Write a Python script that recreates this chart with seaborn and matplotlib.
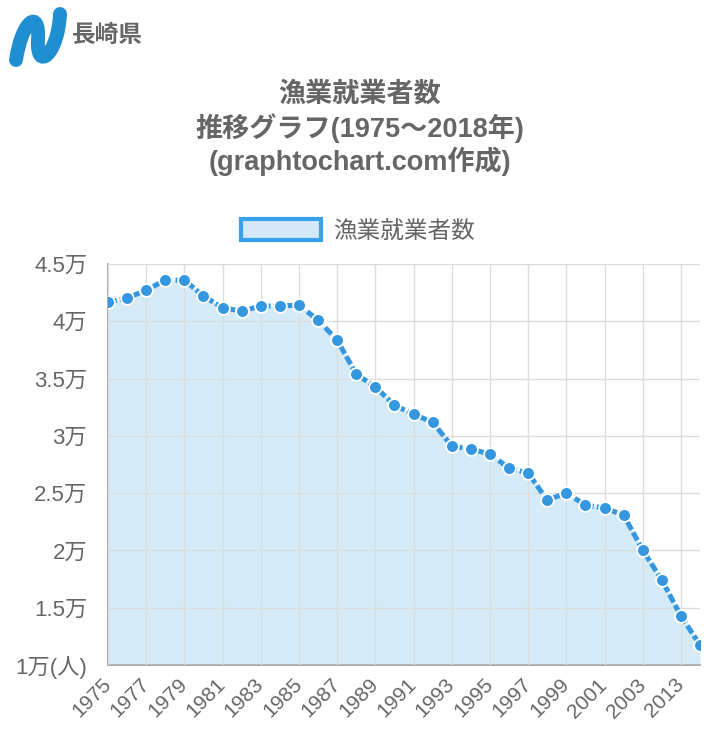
import matplotlib
matplotlib.use("Agg")
import matplotlib.pyplot as plt
import seaborn as sns
import pandas as pd
import numpy as np
from matplotlib.patches import Patch
from matplotlib.path import Path
from matplotlib.patches import PathPatch

years = [1975, 1976, 1977, 1978, 1979, 1980, 1981, 1982, 1983, 1984, 1985, 1986,
         1987, 1988, 1989, 1990, 1991, 1992, 1993, 1994, 1995, 1996, 1997, 1998,
         1999, 2000, 2001, 2002, 2003, 2008, 2013, 2018]
workers = [41680, 42020, 42720, 43590, 43590, 42200, 41180, 40890, 41330, 41330,
           41410, 40100, 38360, 35390, 34260, 32690, 31880, 31200, 29110, 28850,
           28410, 27190, 26750, 24400, 25010, 23960, 23700, 23090, 20030, 17420,
           14280, 11750]
y_ticks = [10000, 15000, 20000, 25000, 30000, 35000, 40000, 45000]
y_tick_labels = ["1万(人)", "1.5万", "2万", "2.5万", "3万", "3.5万", "4万", "4.5万"]
series_name = "漁業就業者数"
title_lines = ["漁業就業者数", "推移グラフ(1975～2018年)", "(graphtochart.com作成)"]
pref_name = "長崎県"

sns.set_theme(style="white")
plt.rcParams['font.family'] = ['Liberation Sans', 'Noto Sans CJK JP', 'DejaVu Sans']

df = pd.DataFrame({"idx": np.arange(len(years)), "year": years, "value": workers})

W, H = 718, 736
fig = plt.figure(figsize=(W / 100, H / 100), dpi=100)
ax = fig.add_axes([108 / W, 1 - 665 / H, (700 - 108) / W, (665 - 264) / H])

line_c = "#3597e0"
ax.fill_between(df["idx"], 10000, df["value"], color="#d5ebf8", alpha=1.0, zorder=1, linewidth=0)
sns.lineplot(data=df, x="idx", y="value", ax=ax, color=line_c, linewidth=3.6,
             dashes=False, zorder=3, legend=False)
ax.lines[-1].set_dashes((1.8, 0.6))
sns.scatterplot(data=df, x="idx", y="value", ax=ax, color=line_c, s=85,
                edgecolor="white", linewidth=1.3, zorder=4, legend=False)

ax.set_xlim(0, len(years) - 1)
ax.set_ylim(10000, 45000)

tick_idx = list(range(0, 29, 2)) + [30]
ax.set_xticks(tick_idx)
ax.set_xticklabels([str(years[i]) for i in tick_idx], rotation=45, ha="right",
                   va="center", rotation_mode="anchor", fontsize=15, color="#666666")
ax.set_yticks(y_ticks)
ax.set_yticklabels(y_tick_labels, fontsize=16, color="#666666")

ax.grid(True, color="#dcdcdc", linewidth=1.0, zorder=2)
ax.set_axisbelow(False)
for g in ax.get_xgridlines() + ax.get_ygridlines():
    g.set_zorder(2)
ax.tick_params(axis="x", length=12, width=1, color="#dcdcdc", pad=0)
ax.tick_params(axis="y", length=14, width=1, color="#dcdcdc", pad=1)
for s in ["top", "right"]:
    ax.spines[s].set_visible(False)
for s in ["left", "bottom"]:
    ax.spines[s].set_color("#a0a0a0")
    ax.spines[s].set_linewidth(1.2)
ax.set_xlabel("")
ax.set_ylabel("")

# title
for i, t in enumerate(title_lines):
    fig.text(360 / W, 1 - (95 + 33 * i) / H, t, ha="center", va="center",
             fontsize=19.5, fontweight="bold", color="#666666")

# legend
handle = Patch(facecolor="#d5e8fa", edgecolor="#36a2eb", linewidth=3)
fig.legend([handle], [series_name], loc="center", bbox_to_anchor=(358 / W, 1 - 231 / H),
           frameon=False, fontsize=17, handlelength=3.4, handleheight=1.0,
           handletextpad=0.5, labelcolor="#666666")

# logo
verts = [(16 / W, 1 - 60 / H), (22 / W, 1 - 20 / H), (40 / W, 1 - 8 / H), (38 / W, 1 - 40 / H),
         (36 / W, 1 - 72 / H), (58 / W, 1 - 55 / H), (60 / W, 1 - 14 / H)]
codes = [Path.MOVETO, Path.CURVE4, Path.CURVE4, Path.CURVE4, Path.CURVE4, Path.CURVE4, Path.CURVE4]
logo = PathPatch(Path(verts, codes), facecolor="none", edgecolor="#1e8fd0", linewidth=10,
                 capstyle="round", transform=fig.transFigure)
fig.patches.append(logo)
fig.text(72 / W, 1 - 35 / H, pref_name, ha="left", va="center", fontsize=17,
         fontweight="bold", color="#666666")

fig.savefig("out.png", dpi=100)
